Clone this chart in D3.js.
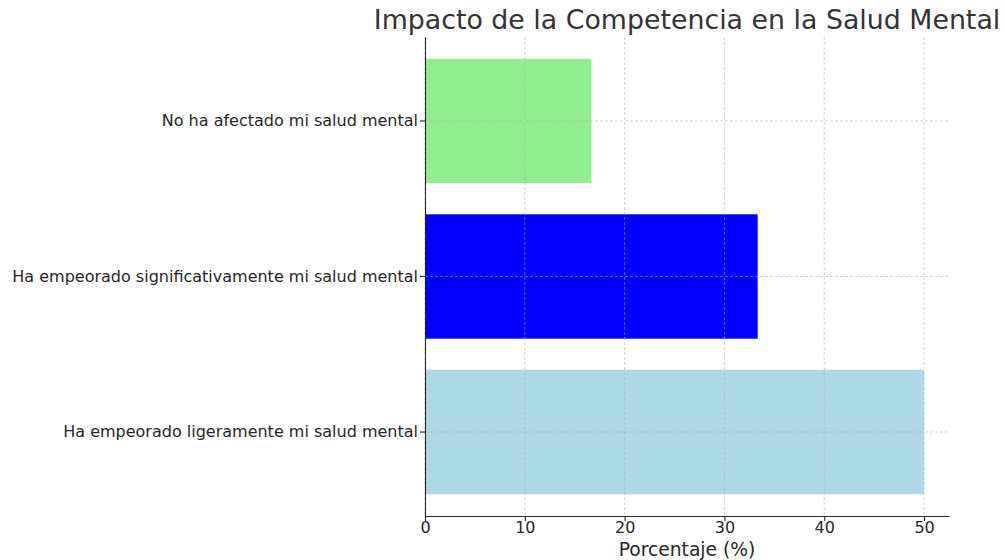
<!DOCTYPE html>
<html><head><meta charset="utf-8">
<script src="https://cdn.jsdelivr.net/npm/d3@7"></script>
<style>body{margin:0;background:#fff}svg{display:block;font-family:"DejaVu Sans",sans-serif}</style>
</head><body><svg id="c" width="1005" height="560"></svg>
<script>
const categories = ["Ha empeorado ligeramente mi salud mental","Ha empeorado significativamente mi salud mental","No ha afectado mi salud mental"];
const values = [50, 33.33, 16.67];
const colors = ["#add8e6", "#0000ff", "#90ee90"];
const xTicks = [0, 10, 20, 30, 40, 50];

const svg = d3.select("#c");
const L = 425, R = 949, T = 37, B = 516;
const x = d3.scaleLinear().domain([0, 52.5]).range([L, R]);
const y = d3.scaleBand().domain(categories.slice().reverse()).range([T, B]).paddingInner(0.2).paddingOuter(0.14);

// bars
svg.selectAll("rect.bar").data(categories).enter().append("rect")
  .attr("x", x(0)).attr("y", d => y(d))
  .attr("width", (d,i) => x(values[i]) - x(0))
  .attr("height", y.bandwidth())
  .attr("fill", (d,i) => colors[i]);

// grid
const g = svg.append("g");
g.selectAll("line.vx").data(xTicks).enter().append("line")
  .attr("x1", d => x(d)).attr("x2", d => x(d)).attr("y1", T).attr("y2", B)
  .attr("stroke", "#b0b0b0").attr("stroke-width", 0.8).attr("stroke-dasharray", "3,2").attr("opacity", 0.7);
g.selectAll("line.hy").data(categories).enter().append("line")
  .attr("x1", L).attr("x2", R).attr("y1", d => y(d) + y.bandwidth()/2).attr("y2", d => y(d) + y.bandwidth()/2)
  .attr("stroke", "#b0b0b0").attr("stroke-width", 0.8).attr("stroke-dasharray", "3,2").attr("opacity", 0.7);

// axes
const xa = svg.append("g").attr("transform", `translate(0,${B})`)
  .call(d3.axisBottom(x).tickValues(xTicks).tickSize(5).tickPadding(4).tickSizeOuter(0));
const ya = svg.append("g").attr("transform", `translate(${L},0)`)
  .call(d3.axisLeft(y).tickSize(5).tickPadding(2).tickSizeOuter(0));
[xa, ya].forEach(a => {
  a.select(".domain").attr("stroke", "#262626").attr("stroke-width", 1.1);
  a.selectAll(".tick line").attr("stroke", "#262626").attr("stroke-width", 1.1);
  a.selectAll(".tick text").attr("fill", "#262626").style("font-size", "16px").style("font-family", "DejaVu Sans");
});
xa.selectAll(".tick text").attr("y", 6).attr("dy", "0.71em");

svg.append("text").attr("x", (L+R)/2).attr("y", 556).attr("text-anchor", "middle")
  .attr("fill", "#262626").style("font-size", "18.7px").text("Porcentaje (%)");
svg.append("text").attr("x", (L+R)/2).attr("y", 29).attr("text-anchor", "middle")
  .attr("fill", "#333").style("font-size", "26.8px").text("Impacto de la Competencia en la Salud Mental");
</script></body></html>
